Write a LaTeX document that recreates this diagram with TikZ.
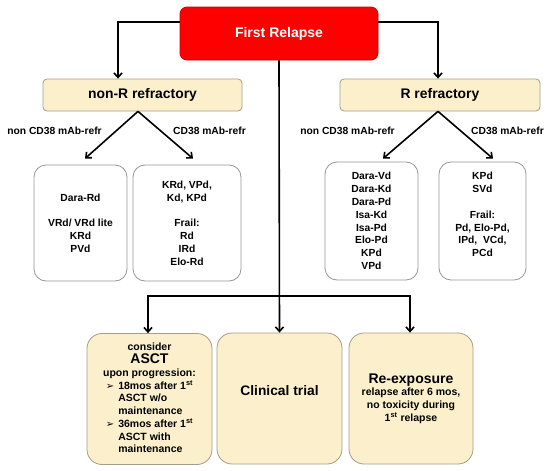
\documentclass[tikz,border=0pt]{standalone}
\usepackage{fontspec}
\setmainfont{Liberation Sans}
\newfontfamily\dejavu{DejaVu Sans}
\usetikzlibrary{arrows.meta}
\definecolor{beige}{RGB}{252,240,204}
\definecolor{beigeborder}{RGB}{165,155,135}
\definecolor{redfill}{RGB}{255,0,0}
\definecolor{redborder}{RGB}{205,0,0}
\definecolor{grayborder}{RGB}{150,150,150}
\newcommand{\fsz}[2]{\fontsize{#1}{#2}\selectfont}
\newcommand{\arrowbullet}{{\dejavu\fsz{10}{10}\raisebox{0pt}{➢}}}
\tikzset{
  arr/.style={line width=1.6pt, -{Straight Barb[length=4.5pt,width=8pt,line width=1.6pt]}},
  ln/.style={line width=1.6pt},
  redbox/.style={draw=redborder, fill=redfill, rounded corners=7pt, line width=0.8pt, text=white, font=\bfseries\fsz{14}{16}},
  topbox/.style={draw=beigeborder, fill=beige, rounded corners=4pt, line width=0.8pt, font=\bfseries\fsz{13.9}{16}},
  whitebox/.style={draw=grayborder, fill=white, rounded corners=12pt, line width=0.8pt, align=center, font=\bfseries\fsz{10.3}{12.8}},
  bottombox/.style={draw=beigeborder, fill=beige, rounded corners=15pt, line width=0.8pt, align=center, font=\bfseries\fsz{10.5}{12.7}},
  lab/.style={font=\bfseries\fsz{10.3}{12}}
}
\begin{document}
\begin{tikzpicture}[x=1pt,y=-1pt]
\useasboundingbox (0,0) rectangle (550,471);
% top
\node[redbox, minimum width=198pt, minimum height=53pt] (fr) at (279,33.5) {First Relapse};
\node[topbox, minimum width=199pt, minimum height=32pt] (nonR) at (142.5,95) {non-R refractory};
\node[topbox, minimum width=200pt, minimum height=32pt] (R) at (440,95) {R refractory};
% middle boxes
\node[whitebox, minimum width=93pt, minimum height=116pt] (m1) at (80.5,223)
  {Dara-Rd\\[12.8pt]VRd/ VRd lite\\KRd\\PVd};
\node[whitebox, minimum width=108pt, minimum height=116pt] (m2) at (187,223)
  {KRd, VPd,\\Kd, KPd\\[12.8pt]Frail:\\Rd\\IRd\\Elo-Rd};
\node[whitebox, minimum width=93pt, minimum height=118pt] (m3) at (371.5,221)
  {Dara-Vd\\Dara-Kd\\Dara-Pd\\Isa-Kd\\Isa-Pd\\Elo-Pd\\KPd\\VPd};
\node[whitebox, minimum width=87pt, minimum height=118pt] (m4) at (482.5,221)
  {KPd\\SVd\\[12.8pt]Frail:\\Pd, Elo-Pd,\\IPd,\ \ VCd,\\PCd\\\mbox{}};
% labels
\node[lab] (l1) at (54.5,131) {non CD38 mAb-refr};
\node[lab] (l2) at (209.5,131) {CD38 mAb-refr};
\node[lab] (l3) at (347.5,131) {non CD38 mAb-refr};
\node[lab] (l4) at (507.5,131) {CD38 mAb-refr};
% bottom boxes
\node[bottombox, minimum width=125pt, minimum height=131pt, inner sep=0pt] (b1) at (149.5,399)
  {\renewcommand{\arraystretch}{1}\begin{tabular}{@{}c@{}}
   consider\\
   {\fsz{14}{15.5}ASCT}\\
   upon progression:\\
   \begin{tabular}{@{}l@{\hspace{4pt}}l@{}}
   \arrowbullet & 18mos after 1\textsuperscript{st}\\
   & ASCT w/o\\
   & maintenance\\
   \arrowbullet & 36mos after 1\textsuperscript{st}\\
   & ASCT with\\
   & maintenance
   \end{tabular}
   \end{tabular}};
\node[bottombox, minimum width=125pt, minimum height=131pt,
  label={[font=\bfseries\fsz{13.8}{16}, yshift=8pt]center:Clinical trial}] (b2) at (279.5,398.5) {};
\node[bottombox, minimum width=124pt, minimum height=131pt] (b3) at (411,398.5)
  {{\fsz{14}{16}Re-exposure}\\
   {\fsz{10.5}{13}relapse after 6 mos,}\\
   {\fsz{10.5}{13}no toxicity during}\\
   {\fsz{10.5}{13}1\textsuperscript{st} relapse}};
% connectors
\draw[arr] ([yshift=11.5pt]fr.west) -| ([xshift=-24.5pt]nonR.north);
\draw[arr] ([yshift=11.5pt]fr.east) -| ([xshift=-2pt]R.north);
\draw[arr] ([xshift=-4.5pt]nonR.south) -- ([xshift=4.5pt,yshift=6pt]m1.north);
\draw[arr] ([xshift=-4.5pt]nonR.south) -- ([xshift=6pt,yshift=6pt]m2.north);
\draw[arr] ([xshift=-2pt]R.south) -- ([xshift=11.5pt,yshift=3pt]m3.north);
\draw[arr] ([xshift=-2pt]R.south) -- ([xshift=10.5pt,yshift=3pt]m4.north);
\coordinate (split) at (fr.south |- 0,296);
\draw[arr] (fr.south) -- (b2.north);
\draw[arr] (split) -| ([xshift=-1.5pt]b1.north);
\draw[arr] (split) -| ([xshift=-1pt]b3.north);
\end{tikzpicture}
\end{document}
